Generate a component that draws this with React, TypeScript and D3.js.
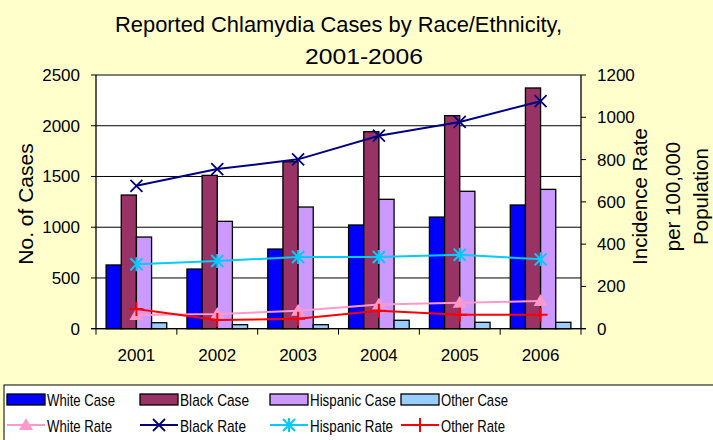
import React from "react";
import * as d3 from "d3";

const years = ["2001", "2002", "2003", "2004", "2005", "2006"];
const whiteCase = [628, 588, 785, 1022, 1100, 1219];
const blackCase = [1317, 1511, 1645, 1941, 2099, 2372];
const hispanicCase = [903, 1058, 1199, 1275, 1354, 1373];
const otherCase = [59, 40, 40, 83, 63, 63];
const whiteRate = [65, 70, 85, 115, 123, 131];
const blackRate = [676, 755, 801, 913, 978, 1076];
const hispanicRate = [305, 320, 339, 339, 350, 328];
const otherRate = [93, 41, 47, 85, 66, 66];
const leftTicks = [0, 500, 1000, 1500, 2000, 2500];
const rightTicks = [0, 200, 400, 600, 800, 1000, 1200];

const caseSeries = [
  { name: "White Case", values: whiteCase, color: "#0000FF", w: 68 },
  { name: "Black Case", values: blackCase, color: "#993366", w: 69 },
  { name: "Hispanic Case", values: hispanicCase, color: "#CC99FF", w: 86 },
  { name: "Other Case", values: otherCase, color: "#99CCFF", w: 67 },
];
const rateSeries = [
  { name: "White Rate", values: whiteRate, color: "#FF99CC", marker: "triangle", w: 65 },
  { name: "Black Rate", values: blackRate, color: "#000080", marker: "x", w: 66 },
  { name: "Hispanic Rate", values: hispanicRate, color: "#00CCFF", marker: "star", w: 83 },
  { name: "Other Rate", values: otherRate, color: "#FF0000", marker: "plus", w: 64 },
];

const FONT = "Liberation Sans, Arial, sans-serif";

function Marker({ type, x, y, color }: { type: string; x: number; y: number; color: string }) {
  const s = 6;
  if (type === "triangle") {
    return <path d={`M${x},${y - 7}L${x + 7},${y + 5}L${x - 7},${y + 5}Z`} fill={color} />;
  }
  if (type === "x") {
    return (
      <path d={`M${x - s},${y - s}L${x + s},${y + s}M${x - s},${y + s}L${x + s},${y - s}`} stroke={color} strokeWidth={1.8} />
    );
  }
  if (type === "star") {
    return (
      <path
        d={`M${x - s},${y - s}L${x + s},${y + s}M${x - s},${y + s}L${x + s},${y - s}M${x},${y - s - 1}L${x},${y + s + 1}`}
        stroke={color}
        strokeWidth={2}
      />
    );
  }
  return <path d={`M${x - 7},${y}L${x + 7},${y}M${x},${y - 7}L${x},${y + 7}`} stroke={color} strokeWidth={2} />;
}

export default function App() {
  const W = 713, H = 440;
  const left = 96, right = 581, top = 75, bottom = 328.7;
  const x0 = d3.scaleBand().domain(years).range([left, right]).paddingInner(0.25).paddingOuter(0.125);
  const x1 = d3.scaleBand().domain(caseSeries.map((s) => s.name)).range([0, x0.bandwidth()]);
  const xc = d3.scaleBand().domain(years).range([left, right]);
  const yL = d3.scaleLinear().domain([0, 2500]).range([bottom, top]);
  const yR = d3.scaleLinear().domain([0, 1200]).range([bottom, top]);
  const cx = (yr: string) => (xc(yr) as number) + xc.bandwidth() / 2;

  const legendCols = [7, 140, 270, 401];
  const midY = 204;

  return (
    <svg width={W} height={H} style={{ position: "absolute", left: 0, top: 0 }} fontFamily={FONT}>
      <rect x={0} y={0} width={W} height={H} fill="#FFFFCC" />
      <text x={115} y={32.3} fontSize={22.5} textLength={447} lengthAdjust="spacingAndGlyphs">Reported Chlamydia Cases by Race/Ethnicity,</text>
      <text x={305} y={64.3} fontSize={22.5} textLength={118} lengthAdjust="spacingAndGlyphs">2001-2006</text>
      <rect x={left} y={top} width={right - left} height={bottom - top} fill="#FFFFFF" />
      {leftTicks.map((t) => (
        <g key={t}>
          <line x1={left} x2={right} y1={yL(t)} y2={yL(t)} stroke="#000" strokeWidth={1} />
          <line x1={left - 5} x2={left} y1={yL(t)} y2={yL(t)} stroke="#000" />
          <text x={80} y={yL(t) + 6} textAnchor="end" fontSize={17}>{t}</text>
        </g>
      ))}
      {rightTicks.map((t) => (
        <g key={t}>
          <line x1={right} x2={right + 5} y1={yR(t)} y2={yR(t)} stroke="#000" />
          <text x={597} y={yR(t) + 6} textAnchor="start" fontSize={17}>{t}</text>
        </g>
      ))}
      {caseSeries.map((s) =>
        s.values.map((v, i) => (
          <rect
            key={s.name + i}
            x={(x0(years[i]) as number) + (x1(s.name) as number)}
            y={yL(v)}
            width={x1.bandwidth()}
            height={bottom - yL(v)}
            fill={s.color}
            stroke="#000"
            strokeWidth={1.3}
          />
        ))
      )}
      <line x1={left} x2={left} y1={top} y2={bottom} stroke="#000" strokeWidth={1.3} />
      <line x1={right} x2={right} y1={top} y2={bottom} stroke="#000" strokeWidth={1.3} />
      <line x1={left - 5} x2={right + 5} y1={bottom} y2={bottom} stroke="#000" strokeWidth={1.3} />
      {years.map((y) => (
        <g key={y}>
          <line x1={xc(y)} x2={xc(y)} y1={bottom} y2={bottom + 6} stroke="#000" />
          <text x={cx(y)} y={360.7} textAnchor="middle" fontSize={17}>{y}</text>
        </g>
      ))}
      <line x1={right} x2={right} y1={bottom} y2={bottom + 6} stroke="#000" />
      {rateSeries.map((s) => {
        const line = d3
          .line<number>()
          .x((_, i) => cx(years[i]))
          .y((v) => yR(v));
        return (
          <g key={s.name}>
            <path d={line(s.values) as string} fill="none" stroke={s.color} strokeWidth={2} />
            {s.values.map((v, i) => (
              <Marker key={i} type={s.marker} x={cx(years[i])} y={yR(v)} color={s.color} />
            ))}
          </g>
        );
      })}
      <text transform={`translate(33,${midY}) rotate(-90)`} textAnchor="middle" fontSize={21}>No. of Cases</text>
      <text transform={`translate(647,196.5) rotate(-90)`} textAnchor="middle" fontSize={20.5}>Incidence Rate</text>
      <text transform={`translate(680,196.5) rotate(-90)`} textAnchor="middle" fontSize={20.5}>per 100,000</text>
      <text transform={`translate(708,196.5) rotate(-90)`} textAnchor="middle" fontSize={20.5}>Population</text>
      <rect x={4} y={385} width={W + 10} height={70} fill="#FFFFFF" stroke="#000" strokeWidth={1} />
      {caseSeries.map((s, i) => (
        <g key={s.name}>
          <rect x={legendCols[i]} y={394} width={38} height={11} fill={s.color} stroke="#000" strokeWidth={1.3} />
          <text x={legendCols[i] + 40} y={405.5} fontSize={17} textLength={s.w} lengthAdjust="spacingAndGlyphs">{s.name}</text>
        </g>
      ))}
      {rateSeries.map((s, i) => (
        <g key={s.name}>
          <line x1={legendCols[i]} x2={legendCols[i] + 38} y1={425} y2={425} stroke={s.color} strokeWidth={2} />
          <Marker type={s.marker} x={legendCols[i] + 19} y={425} color={s.color} />
          <text x={legendCols[i] + 40} y={431.5} fontSize={17} textLength={s.w} lengthAdjust="spacingAndGlyphs">{s.name}</text>
        </g>
      ))}
    </svg>
  );
}
